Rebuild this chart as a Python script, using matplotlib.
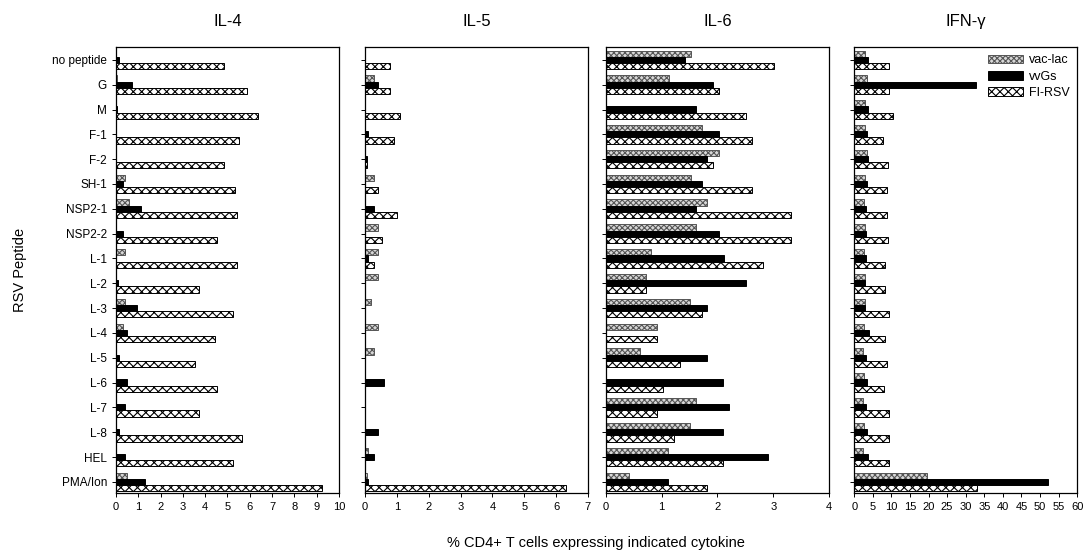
import numpy as np
import matplotlib.pyplot as plt

plt.rcParams['font.family'] = ['Liberation Sans', 'DejaVu Sans']
plt.rcParams['hatch.linewidth'] = 0.8

peptides = ["no peptide", "G", "M", "F-1", "F-2", "SH-1", "NSP2-1", "NSP2-2",
            "L-1", "L-2", "L-3", "L-4", "L-5", "L-6", "L-7", "L-8", "HEL",
            "PMA/Ion"]
groups = ["vac-lac", "vvGs", "FI-RSV"]

# % CD4+ T cells, one list per group and cytokine
il4_vaclac = [0, 0.05, 0, 0, 0, 0.42, 0.6, 0, 0.42, 0, 0.42, 0.33, 0, 0, 0, 0, 0, 0.5]
il4_vvgs = [0.15, 0.72, 0.06, 0, 0, 0.3, 1.12, 0.3, 0, 0.09, 0.93, 0.5, 0.12, 0.5, 0.42, 0.12, 0.42, 1.3]
il4_firsv = [4.86, 5.86, 6.35, 5.53, 4.86, 5.35, 5.44, 4.54, 5.44, 3.74, 5.23, 4.45, 3.56, 4.54, 3.74, 5.63, 5.23, 9.24]

il5_vaclac = [0, 0.29, 0, 0, 0, 0.29, 0, 0.4, 0.4, 0.4, 0.19, 0.4, 0.29, 0, 0, 0, 0.1, 0.05]
il5_vvgs = [0, 0.4, 0, 0.1, 0.07, 0, 0.29, 0, 0.08, 0, 0, 0, 0, 0.6, 0, 0.4, 0.29, 0.1]
il5_firsv = [0.79, 0.79, 1.11, 0.9, 0.07, 0.4, 1.0, 0.52, 0.29, 0, 0, 0, 0, 0, 0, 0, 0, 6.3]

il6_vaclac = [1.52, 1.13, 0, 1.72, 2.02, 1.52, 1.82, 1.62, 0.8, 0.71, 1.5, 0.91, 0.61, 0, 1.62, 1.5, 1.11, 0.41]
il6_vvgs = [1.42, 1.92, 1.62, 2.02, 1.82, 1.72, 1.62, 2.02, 2.12, 2.51, 1.82, 0, 1.82, 2.1, 2.2, 2.1, 2.91, 1.11]
il6_firsv = [3.02, 2.02, 2.51, 2.62, 1.92, 2.62, 3.32, 3.32, 2.81, 0.71, 1.72, 0.91, 1.32, 1.02, 0.91, 1.22, 2.1, 1.82]

ifn_vaclac = [2.9, 3.4, 2.9, 3.0, 3.4, 3.0, 2.7, 2.9, 2.7, 2.9, 2.8, 2.7, 2.5, 2.7, 2.5, 2.7, 2.3, 19.5]
ifn_vvgs = [3.6, 32.9, 3.6, 3.4, 3.8, 3.4, 3.2, 3.2, 3.2, 2.9, 2.9, 3.9, 3.2, 3.4, 3.2, 3.4, 3.6, 52.1]
ifn_firsv = [9.5, 9.5, 10.4, 7.7, 9.0, 8.8, 8.8, 9.0, 8.4, 8.2, 9.5, 8.4, 8.8, 8.1, 9.5, 9.5, 9.5, 33.1]

titles = ["IL-4", "IL-5", "IL-6", "IFN-\u03b3"]
panels = [(il4_vaclac, il4_vvgs, il4_firsv),
          (il5_vaclac, il5_vvgs, il5_firsv),
          (il6_vaclac, il6_vvgs, il6_firsv),
          (ifn_vaclac, ifn_vvgs, ifn_firsv)]
xmax = [10, 7, 4, 60]
xstep = [1, 1, 1, 5]

styles = [dict(facecolor="#d8d8d8", hatch="xxxxxx", edgecolor="#555555"),
          dict(facecolor="black", hatch="", edgecolor="black"),
          dict(facecolor="white", hatch="xxxx", edgecolor="black")]

fig = plt.figure(figsize=(10.84, 5.59), dpi=100)
lefts = [0.107, 0.3367, 0.559, 0.788]
h = 0.25
y = np.arange(len(peptides))

for k, (left, data) in enumerate(zip(lefts, panels)):
    ax = fig.add_axes([left, 0.118, 0.2057, 0.798])
    for j, vals in enumerate(data):
        ax.barh(y + (j - 1) * h, vals, height=h, linewidth=0.7,
                label=groups[j], **styles[j])
    ax.set_xlim(0, xmax[k])
    ax.set_ylim(len(peptides) - 0.55, -0.52)
    ax.set_xticks(np.arange(0, xmax[k] + 0.1, xstep[k]))
    ax.tick_params(axis="x", labelsize=8, length=3, width=0.7)
    ax.tick_params(axis="y", length=3, width=0.7)
    ax.set_yticks(y)
    if k == 0:
        ax.set_yticklabels(peptides, fontsize=8.5)
    else:
        ax.set_yticklabels([])
    ax.set_title(titles[k], fontsize=12, pad=15)
    for sp in ax.spines.values():
        sp.set_linewidth(0.9)
    if k == 3:
        ax.legend(loc="upper right", frameon=False, fontsize=9,
                  handlelength=2.8, handleheight=0.7, labelspacing=0.35,
                  borderaxespad=0.2, handletextpad=0.5)

fig.text(0.018, 0.517, "RSV Peptide", rotation=90, va="center", ha="center",
         fontsize=10.5)
fig.text(0.55, 0.029, "% CD4+ T cells expressing indicated cytokine",
         ha="center", va="center", fontsize=10.5)

fig.savefig("out.png", dpi=100)
